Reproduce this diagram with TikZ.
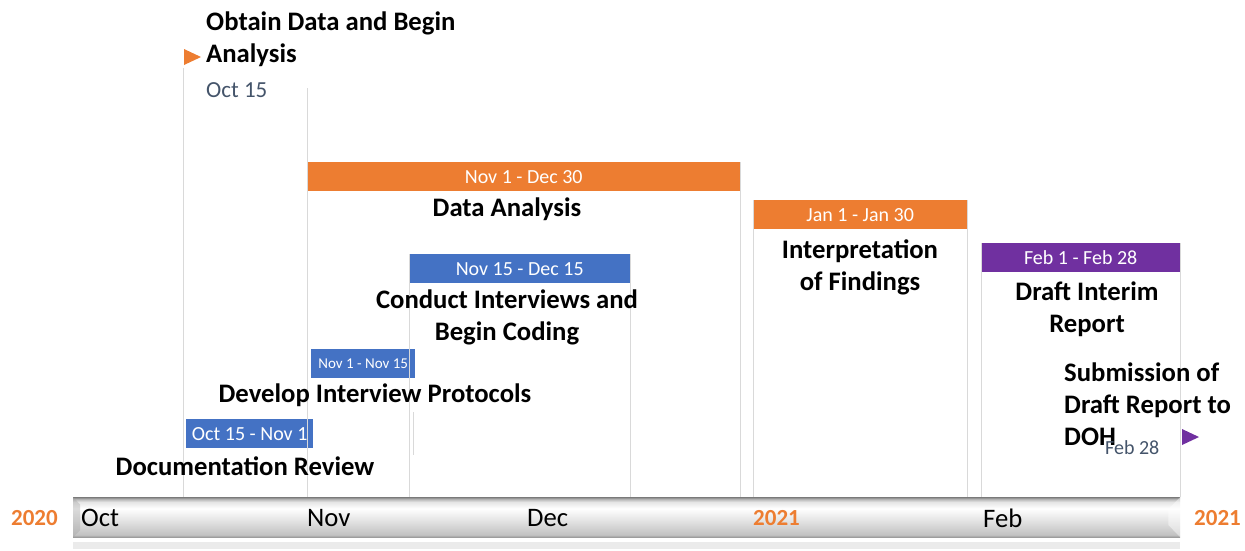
\documentclass[tikz,border=0pt]{standalone}
\usepackage{fontspec}
\setmainfont{Carlito}
\definecolor{barorange}{HTML}{ED7D31}
\definecolor{barblue}{HTML}{4472C4}
\definecolor{barpurple}{HTML}{7030A0}
\definecolor{dategray}{HTML}{44546A}
\definecolor{yearorange}{HTML}{ED7D31}
\definecolor{guide}{HTML}{D9D9D9}
% bevelled grey look of the time axis; the path spans 25bp (bottom) to 75bp (top)
\pgfdeclareverticalshading{axisshade}{100bp}{%
  color(0bp)=(black!40); color(25bp)=(black!40); color(28bp)=(black!24);
  color(47bp)=(black!10); color(61bp)=(white); color(69bp)=(black!10);
  color(72.5bp)=(black!28); color(75bp)=(black!50); color(100bp)=(black!50)}
\begin{document}
\begin{tikzpicture}[x=1pt,y=-1pt,
  taskbar/.style={anchor=north west, inner sep=0pt, text=white,
    minimum height=29pt, font=\fontsize{20}{20}\selectfont},
  tasklabel/.style={font=\bfseries\fontsize{26.7}{32}\selectfont, align=center, inner sep=0pt},
  datelabel/.style={font=\fontsize{23}{23}\selectfont, text=dategray, inner sep=0pt},
  monthlabel/.style={font=\fontsize{26.7}{26.7}\selectfont, inner sep=0pt},
  yearlabel/.style={font=\bfseries\fontsize{23}{23}\selectfont, text=yearorange, inner sep=0pt},
  guideline/.style={draw=guide, line width=1pt},
]
\useasboundingbox (0,0) rectangle (1245,550);

% time axis and its faint reflection
\node[anchor=north west, minimum width=1107pt, minimum height=40pt, inner sep=0pt,
  shading=axisshade] (axis) at (73,497) {};
\fill[black!8] (73,542) rectangle (1180,549);
\fill[black!35, opacity=0.4] (axis.south west) -- ++(7,-7) -- ++(0,-26) -- (axis.north west) -- cycle;
\fill[white, opacity=0.45] (axis.north east) -- ++(-12,12) -- ++(0,16) -- (axis.south east) -- cycle;

% bars
\node[taskbar, fill=barorange, minimum width=433pt] (da) at (307,162) {Nov 1 - Dec 30};
\node[taskbar, fill=barorange, minimum width=214pt] (ifd) at (753,200) {Jan 1 - Jan 30};
\node[taskbar, fill=barpurple, minimum width=199pt] (dir) at (981,243) {Feb 1 - Feb 28};
\node[taskbar, fill=barblue, minimum width=221pt] (ci) at (409,254) {Nov 15 - Dec 15};
\node[taskbar, fill=barblue, minimum width=104pt, font=\fontsize{15}{15}\selectfont] (dip) at (311,349) {Nov 1 - Nov 15};
\node[taskbar, fill=barblue, minimum width=127pt] (dr) at (186,419) {Oct 15 - Nov 1};

% milestones
\coordinate (m1) at (184,57);
\fill[barorange] (m1) ++(0,-8) -- ++(17,8) -- ++(-17,8) -- cycle;
\coordinate (m2) at (1182,437);
\fill[barpurple] (m2) ++(0,-8) -- ++(17,8) -- ++(-17,8) -- cycle;

% guide lines down to the axis
\draw[guideline] (183,68) -- (183,497);
\draw[guideline] (307,88) -- (307,497);
\draw[guideline] (ci.north west) -- (ci.north west |- axis.north);
\draw[guideline] (ci.north east) -- (ci.north east |- axis.north);
\draw[guideline] (413,412) -- (413,455);
\draw[guideline] (da.north east) -- (da.north east |- axis.north);
\draw[guideline] (ifd.north west) -- (ifd.north west |- axis.north);
\draw[guideline] (ifd.north east) -- (ifd.north east |- axis.north);
\draw[guideline] (dir.north west) -- (dir.north west |- axis.north);
\draw[guideline] (dir.north east) -- (dir.north east |- axis.north);

% task labels
\node[tasklabel] (tda) at (507,209) {Data Analysis};
\node[tasklabel] (tifd) at (860,267) {Interpretation\\of Findings};
\node[tasklabel] (tdir) at (1087,309) {Draft Interim\\Report};
\node[tasklabel] (tci) at (507,317) {Conduct Interviews and\\Begin Coding};
\node[tasklabel] (tdip) at (375,395) {Develop Interview Protocols};
\node[tasklabel] (tdr) at (245,466) {Documentation Review};
\node[tasklabel, anchor=west, align=left] (tm1) at (206,39) {Obtain Data and Begin\\Analysis};
\node[datelabel, anchor=west] (dm1) at (206,90) {Oct 15};
\node[tasklabel, anchor=west, align=left] (tm2) at (1064,404) {Submission of\\Draft Report to\\DOH};
\node[datelabel, anchor=west, font=\fontsize{20}{20}\selectfont] (dm2) at (1105,448) {Feb 28};

% axis labels
\node[monthlabel, anchor=west] (oct) at (81,518) {Oct};
\node[monthlabel, anchor=west] (nov) at (307,518) {Nov};
\node[monthlabel, anchor=west] (dec) at (527,518) {Dec};
\node[yearlabel, anchor=west] (y21a) at (753,518) {2021};
\node[monthlabel, anchor=west] (feb) at (983,518) {Feb};
\node[yearlabel, anchor=east] (y20) at (58,518) {2020};
\node[yearlabel, anchor=west] (y21b) at (1194,518) {2021};
\end{tikzpicture}
\end{document}
